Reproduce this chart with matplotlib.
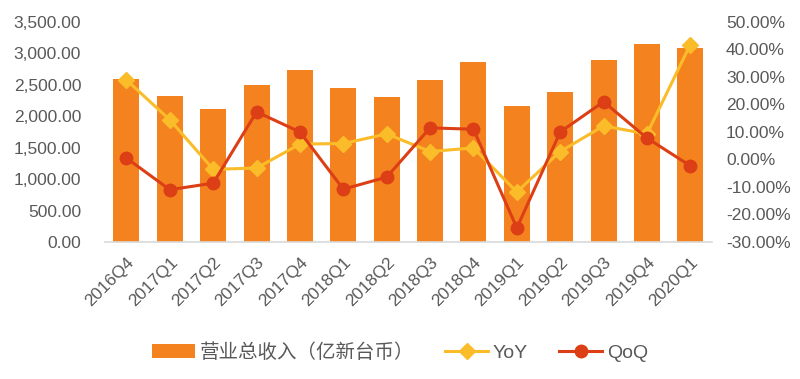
import matplotlib
matplotlib.use("Agg")
import matplotlib.pyplot as plt
from matplotlib.ticker import FuncFormatter

plt.rcParams['font.family'] = ['Liberation Sans', 'Noto Sans CJK SC', 'DejaVu Sans']

categories = ["2016Q4", "2017Q1", "2017Q2", "2017Q3", "2017Q4", "2018Q1", "2018Q2",
              "2018Q3", "2018Q4", "2019Q1", "2019Q2", "2019Q3", "2019Q4", "2020Q1"]
revenue = [2600, 2330, 2120, 2500, 2740, 2450, 2310, 2580, 2870, 2160, 2390, 2900, 3150, 3080]
yoy = [28.9, 14.4, -3.6, -3.1, 5.6, 5.8, 9.3, 2.9, 4.2, -11.8, 2.9, 12.2, 9.3, 41.8]
qoq = [0.5, -11.0, -8.6, 17.3, 10.0, -10.8, -6.4, 11.5, 11.0, -24.9, 10.0, 21.0, 7.8, -2.3]

bar_label = "营业总收入（亿新台币）"
c_bar = "#F4821F"
c_yoy = "#FBBC2A"
c_qoq = "#DC3F16"
txt = "#595959"

fig = plt.figure(figsize=(8, 3.79), dpi=100)
ax = fig.add_axes([0.131, 0.3615, 0.759, 0.5805])
x = list(range(len(categories)))
bars = ax.bar(x, revenue, width=0.6, color=c_bar, label=bar_label, zorder=1)
ax.set_xlim(-0.5, len(categories) - 0.5)
ax.set_ylim(0, 3500)
ax.set_yticks(range(0, 3501, 500))
ax.yaxis.set_major_formatter(FuncFormatter(lambda v, p: f"{v:,.2f}"))
ax.set_xticks(x)
ax.set_xticklabels(categories, rotation=45, ha='right', rotation_mode='anchor')
for s in ['top', 'right', 'left']:
    ax.spines[s].set_visible(False)
ax.spines['bottom'].set_color('#D9D9D9')
ax.spines['bottom'].set_linewidth(1.2)
ax.tick_params(axis='both', colors=txt, labelsize=12.5, length=0)
ax.tick_params(axis='y', pad=17)
ax.tick_params(axis='x', pad=9)

ax2 = ax.twinx()
ax2.set_ylim(-30, 50)
ax2.set_yticks(range(-30, 51, 10))
ax2.yaxis.set_major_formatter(FuncFormatter(lambda v, p: f"{v:.2f}%"))
for s in ['top', 'right', 'left', 'bottom']:
    ax2.spines[s].set_visible(False)
ax2.tick_params(axis='y', colors=txt, labelsize=12.5, length=0, pad=10)

l1, = ax2.plot(x, yoy, color=c_yoy, lw=2.2, marker='D', markersize=8, label="YoY", zorder=3)
l2, = ax2.plot(x, qoq, color=c_qoq, lw=2.2, marker='o', markersize=9, label="QoQ", zorder=4)

fig.legend([bars, l1, l2], [bar_label, "YoY", "QoQ"], loc='center', bbox_to_anchor=(0.5, 0.07),
           ncol=3, frameon=False, fontsize=14, labelcolor=txt, handlelength=2.2,
           columnspacing=1.6, handletextpad=0.25)

fig.savefig("out.png", dpi=100)
